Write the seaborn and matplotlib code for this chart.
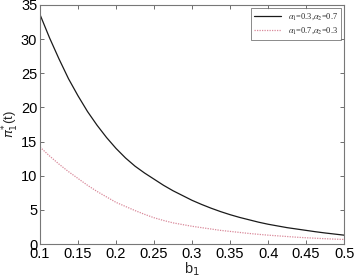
import numpy as np
import pandas as pd
import matplotlib
matplotlib.use('Agg')
import matplotlib.pyplot as plt
import seaborn as sns

# values
b1 = [0.1, 0.1125, 0.125, 0.1375, 0.15, 0.1625, 0.175, 0.1875, 0.2,
      0.2125, 0.225, 0.2375, 0.25, 0.2625, 0.275, 0.2875, 0.3,
      0.3125, 0.325, 0.3375, 0.35, 0.3625, 0.375, 0.3875, 0.4,
      0.4125, 0.425, 0.4375, 0.45, 0.4625, 0.475, 0.4875, 0.5]
pi_a = [33.6, 30.2, 27.1, 24.2, 21.7, 19.4, 17.4, 15.6, 14.0,
        12.6, 11.4, 10.4, 9.5, 8.6, 7.8, 7.1, 6.4,
        5.8, 5.25, 4.75, 4.3, 3.9, 3.55, 3.2, 2.9,
        2.65, 2.4, 2.2, 2.0, 1.8, 1.62, 1.46, 1.3]
pi_b = [14.2, 12.9, 11.7, 10.6, 9.6, 8.6, 7.7, 6.9, 6.1,
        5.5, 4.9, 4.35, 3.85, 3.45, 3.1, 2.85, 2.6,
        2.4, 2.2, 2.0, 1.85, 1.7, 1.55, 1.42, 1.3,
        1.2, 1.1, 1.0, 0.92, 0.85, 0.78, 0.72, 0.67]
labels = [r'$\alpha_1$=0.3,$\alpha_2$=0.7', r'$\alpha_1$=0.7,$\alpha_2$=0.3']
xticks = [0.1, 0.15, 0.2, 0.25, 0.3, 0.35, 0.4, 0.45, 0.5]
yticks = [0, 5, 10, 15, 20, 25, 30, 35]

sns.set_theme(style='white')
plt.rcParams['font.family'] = ['Liberation Sans', 'DejaVu Sans']
plt.rcParams['mathtext.fontset'] = 'dejavusans'

df = pd.DataFrame({
    'b1': b1 + b1,
    'pi': pi_a + pi_b,
    'case': [labels[0]] * len(b1) + [labels[1]] * len(b1),
})

fig = plt.figure(figsize=(3.54, 2.77), dpi=100)
ax = fig.add_axes([0.113, 0.119, 0.859, 0.863])

sns.lineplot(data=df, x='b1', y='pi', hue='case', style='case',
             palette=['#1a1a1a', '#d9899a'],
             dashes={labels[0]: '', labels[1]: (1, 1)},
             linewidth=0.9, ax=ax)

ax.set_xlim(0.1, 0.5)
ax.set_ylim(0, 35)
ax.set_xticks(xticks)
ax.set_xticklabels([f'{t:g}' for t in xticks])
ax.set_yticks(yticks)
ax.tick_params(direction='in', length=3, width=0.6, color='#555555',
               labelsize=10.5, pad=2, top=True, right=True,
               bottom=True, left=True, labelcolor='black')
for s in ax.spines.values():
    s.set_color('#777777')
    s.set_linewidth(0.8)

ax.set_xlabel(r'b$_1$', fontsize=10.5)
ax.xaxis.set_label_coords(0.5, -0.068)
ax.set_ylabel(r'$\pi_1^{*}$(t)', fontsize=9.5)
ax.yaxis.set_label_coords(-0.062, 0.5)

leg = ax.legend(loc='upper right', frameon=True, fancybox=False,
                borderpad=0.4, handlelength=3.2, labelspacing=0.5,
                borderaxespad=0.35,
                prop={'family': 'Liberation Serif', 'size': 6,
                      'math_fontfamily': 'stix'})
leg.get_frame().set_edgecolor('#555555')
leg.get_frame().set_linewidth(0.6)

fig.savefig('out.png', dpi=100)
